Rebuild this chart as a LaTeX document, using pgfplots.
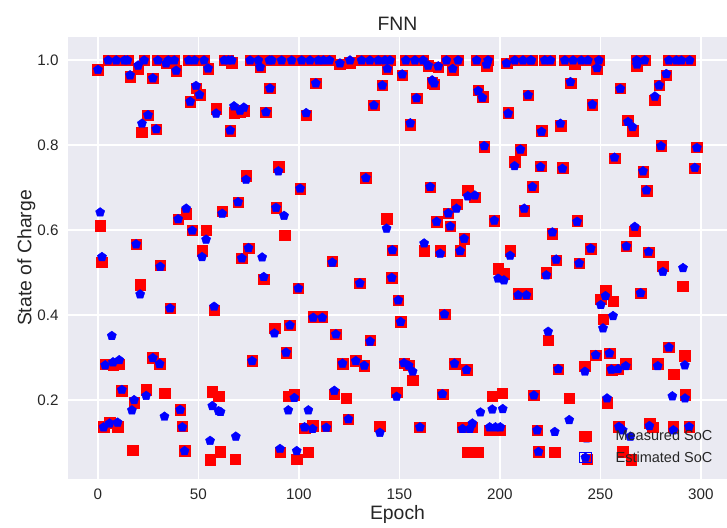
\documentclass[border=0pt]{standalone}
\usepackage{fontspec}
\setmainfont{Liberation Sans}
\usepackage{pgfplots}
\pgfplotsset{compat=1.18}
\definecolor{sbbg}{HTML}{EAEAF2}
\definecolor{sbtext}{HTML}{262626}
\begin{document}
\begin{tikzpicture}
\useasboundingbox (-68pt,-48pt) rectangle (659pt,479pt);
\begin{axis}[
  at={(0pt,0pt)}, anchor=south west,
  scale only axis, width=659pt, height=442pt,
  xmin=-14.9, xmax=313, ymin=0.014, ymax=1.055,
  axis background/.style={fill=sbbg},
  axis line style={draw=none},
  major tick length=0pt,
  grid=major, major grid style={white, line width=1.7pt},
  xtick={0,50,...,300}, ytick={0.2,0.4,0.6,0.8,1.0},
  /pgf/number format/assume math mode=true,
  tick label style={font=\fontsize{15.2}{18}\selectfont, text=sbtext},
  xticklabel style={yshift=-6pt},
  yticklabel style={xshift=-6pt, /pgf/number format/fixed, /pgf/number format/fixed zerofill, /pgf/number format/precision=1},
  xlabel={Epoch}, ylabel={State of Charge}, title={FNN},
  every axis x label/.style={at={(rel axis cs:0.5,0)}, anchor=north, yshift=-23pt, font=\fontsize{19.4}{23}\selectfont, text=sbtext},
  every axis y label/.style={at={(rel axis cs:0,0.5)}, xshift=-29.1pt, rotate=90, anchor=south, font=\fontsize{19.4}{23}\selectfont, text=sbtext},
  every axis title/.style={at={(rel axis cs:0.5,1)}, anchor=south, yshift=2.5pt, font=\fontsize{19.4}{23}\selectfont, text=sbtext},
  legend cell align=left,
  legend image code/.code={\path (-6pt,-5pt) rectangle (6pt,5pt); \draw[#1] plot coordinates {(0pt,0pt)};},
  legend style={at={(0.7754,0.0727)}, anchor=west, draw=none, fill=none, inner sep=0pt, row sep=7.5pt,
    font=\fontsize{14.5}{17}\selectfont, text=sbtext, nodes={inner sep=1pt}},
]
\addplot[only marks, mark=square*, mark size=5.3pt, color=red, mark options={draw=red, fill=red}] coordinates {
(0,0.978) (5.1,1.0) (9.1,1.0) (13.2,1.0) (14.7,1.0) (16,0.962) (20,0.980) (23,1.0) (27.3,0.958) (29.8,1.0) (33.9,0.993) (35,1.0) (38,1.0) (38.9,0.976) (45.2,1.0) (48,1.0) (52.8,1.0) (54.8,0.981) (48.8,0.934) (50.5,0.919) (45.9,0.903) (58.8,0.886) (62.8,1.0) (64.9,1.0) (66.6,0.995) (67.7,0.876) (70.7,0.878) (72.6,0.881) (65.8,0.835) (24.9,0.871) (21.9,0.831) (29,0.838) (1.1,0.611) (43.9,0.639) (39.9,0.626) (46.9,0.600) (53.8,0.600) (61.8,0.645) (69.7,0.666) (19,0.567) (51.8,0.551) (2,0.525) (31,0.518) (21,0.471) (35.9,0.416) (57.8,0.412) (3.6,0.284) (7.5,0.282) (10.6,0.284) (27.3,0.299) (30.7,0.285) (11.9,0.222) (24,0.224) (33.1,0.216) (56.9,0.219) (60,0.209) (18,0.193) (40.9,0.177) (42,0.138) (2.8,0.137) (5.8,0.147) (9.8,0.137) (17.2,0.082) (43.1,0.080) (55.8,0.060) (60.8,0.078) (68.3,0.061)
(75.7,1.0) (79.8,1.0) (85.3,1.0) (86.5,1.0) (91.4,1.0) (96.4,1.0) (101.4,1.0) (105.5,1.0) (109.7,1.0) (112.2,1.0) (115.2,1.0) (120.4,0.991) (125.4,0.994) (131.2,1.0) (135.3,1.0) (139.5,1.0) (142.8,1.0) (80.7,0.984) (144,0.980) (85.6,0.934) (108.4,0.946) (141.5,0.941) (83.6,0.878) (103.6,0.871) (137.3,0.894) (73.7,0.729) (89.8,0.749) (100.6,0.698) (133.3,0.723) (88.6,0.653) (92.8,0.588) (143.6,0.627) (74.9,0.558) (71.6,0.534) (116.6,0.527)
(82.5,0.485) (99.7,0.463) (130.3,0.475) (146.2,0.488) (107.1,0.396) (111.6,0.396) (87.8,0.369) (95.5,0.376) (118.4,0.355) (135.4,0.341) (93.6,0.312) (76.7,0.292) (121.7,0.286) (128.3,0.292) (132.5,0.281) (95,0.209) (97.7,0.212) (117.6,0.214) (123.6,0.204) (102.8,0.134) (106.8,0.139) (113.6,0.138) (124.6,0.155) (140.3,0.138) (90.6,0.077) (98.9,0.061) (104.7,0.077)
(145.3,1.0) (153.2,1.0) (157.7,1.0) (161.8,1.0) (164.3,0.988) (169.3,0.984) (173.4,1.0) (179.2,1.0) (188.4,1.0) (194.1,1.0) (203.3,0.993) (207.4,1.0) (211.5,1.0) (215.2,1.0) (176.5,0.978) (193.4,0.988) (151.4,0.965) (166.3,0.948) (167.3,0.944) (158.5,0.911) (189.2,0.930) (191.3,0.914) (214,0.918) (204.1,0.876) (155.4,0.848) (220.7,0.834) (192.2,0.797) (210.2,0.789) (207.3,0.761) (220.2,0.751) (216.2,0.702) (165.3,0.701) (184,0.694) (187.5,0.678) (178.4,0.661) (174.3,0.640) (212.1,0.646) (168.5,0.620) (175.3,0.609) (197.2,0.623) (182.2,0.580) (162.3,0.551) (146.5,0.553) (170.3,0.551) (180.2,0.551) (205.1,0.551)
(199.1,0.510) (202,0.498) (209.1,0.451) (213.2,0.451) (149.4,0.435) (172.4,0.402) (150.6,0.384) (152.3,0.287) (154.6,0.282) (156.6,0.247) (177.4,0.286) (183.4,0.271) (148.6,0.218) (171.4,0.214) (196.1,0.209) (201.1,0.216) (216.9,0.211) (160.2,0.136) (181.4,0.136) (186.3,0.136) (194.9,0.129) (197.8,0.129) (200.2,0.129) (218.5,0.129) (184.1,0.077) (189.2,0.077) (219.2,0.078)
(215.7,1.0) (222.3,1.0) (225.1,1.0) (232.3,1.0) (236.4,1.0) (240.5,1.0) (243.8,1.0) (249.2,1.0) (268,1.0) (272,1.0) (284.1,1.0) (287.8,1.0) (290.3,1.0) (294.4,1.0) (237.2,0.992) (248.3,0.980) (268.2,0.988) (235.1,0.946) (259.9,0.934) (246,0.896) (279.2,0.941) (282.8,0.965) (277.1,0.906) (230.1,0.846) (263.7,0.859) (266,0.835) (280.2,0.799) (298,0.795) (257,0.770) (231.1,0.747) (271.2,0.738) (297,0.746) (272.9,0.693) (238.4,0.622) (226.1,0.592) (267.1,0.598) (245.2,0.557) (262.9,0.562) (274,0.548) (228,0.529) (239.4,0.522)
(223.1,0.500) (281.1,0.515) (291.1,0.468) (252.5,0.457) (250.2,0.437) (256.3,0.433) (270,0.452) (251.3,0.390) (224,0.341) (247.7,0.306) (254.5,0.310) (284.1,0.324) (292,0.304) (229,0.273) (242.3,0.280) (255.5,0.272) (258.8,0.273) (262.6,0.285) (278.5,0.285) (286.5,0.261) (234.5,0.204) (253.3,0.194) (292.1,0.212) (227.2,0.077) (243.5,0.061) (259.2,0.137) (274.4,0.145) (276,0.136) (286.3,0.137) (294.1,0.137) (261,0.078) (265.4,0.060)
};
\addlegendentry{\hspace*{23pt}Measured SoC}
\addplot[only marks, mark=pentagon*, mark size=4.8pt, color=blue, mark options={draw=blue, fill=blue}] coordinates {
(0,0.978) (5.1,1.0) (9.1,1.0) (13.2,1.0) (14.7,1.0) (16,0.965) (20,0.988) (23,1.0) (27.3,0.958) (29.8,1.0) (33.9,0.993) (35,1.0) (38,1.0) (38.9,0.976) (45.2,1.0) (48,1.0) (52.8,1.0) (54.8,0.981) (48.8,0.940) (50.5,0.919) (45.9,0.903) (58.8,0.875) (62.8,1.0) (64.9,1.0) (66.6,1.0) (67.7,0.892) (70.7,0.882) (72.6,0.889) (65.8,0.835) (24.9,0.871) (21.9,0.851) (29,0.838) (1.1,0.642) (43.9,0.651) (39.9,0.626) (46.9,0.599) (53.8,0.578) (61.8,0.639) (69.7,0.666) (19,0.567) (51.8,0.537) (2,0.537)
(31,0.514) (21,0.449) (35.9,0.416) (57.8,0.420) (6.9,0.351) (3.6,0.282) (7.5,0.289) (10.6,0.294) (27.3,0.299) (30.7,0.285) (11.9,0.224) (24,0.210) (33.1,0.161) (56.9,0.186) (60,0.174) (61,0.172) (18,0.200) (16.9,0.176) (40.9,0.177) (42,0.136) (2.8,0.136) (5.8,0.145) (9.8,0.147) (43.1,0.080) (55.8,0.104) (68.6,0.114)
(75.7,1.0) (79.8,1.0) (85.3,1.0) (86.5,1.0) (91.4,1.0) (96.4,1.0) (101.4,1.0) (105.5,1.0) (109.7,1.0) (112.2,1.0) (115.2,1.0) (120.4,0.993) (125.4,1.0) (131.2,1.0) (135.3,1.0) (139.5,1.0) (142.8,1.0) (80.7,0.984) (144,0.980) (85.6,0.934) (108.4,0.946) (141.5,0.941) (83.6,0.878) (103.6,0.876) (137.3,0.894) (73.7,0.719) (89.8,0.739) (100.6,0.698) (133.3,0.723) (88.6,0.653) (92.6,0.634) (143.6,0.604) (74.9,0.558) (71.6,0.534) (81.7,0.536) (116.6,0.524)
(82.5,0.490) (99.7,0.463) (130.3,0.475) (146.2,0.488) (107.1,0.394) (111.6,0.394) (87.8,0.357) (95.5,0.376) (118.4,0.355) (135.4,0.338) (93.6,0.312) (76.7,0.292) (121.7,0.286) (128.3,0.292) (132.5,0.281) (97.7,0.205) (117.6,0.222) (94.7,0.176) (104.7,0.176) (102.8,0.136) (106.8,0.132) (113.6,0.135) (124.6,0.155) (140.3,0.123) (90.6,0.085) (98.9,0.080)
(145.3,1.0) (153.2,1.0) (157.7,1.0) (161.8,1.0) (164.3,0.988) (169.3,0.986) (173.4,1.0) (179.2,1.0) (188.4,1.0) (194.1,1.0) (203.3,0.993) (207.4,1.0) (211.5,1.0) (215.2,1.0) (176.5,0.980) (193.4,0.990) (151.4,0.967) (166.3,0.953) (167.3,0.946) (158.5,0.911) (189.2,0.928) (191.3,0.912) (214,0.918) (204.1,0.875) (155.4,0.852) (220.7,0.832) (192.2,0.798) (210.2,0.790) (207.3,0.751) (220.2,0.749) (216.2,0.702) (165.3,0.702) (184,0.680) (187.5,0.682) (178.4,0.651) (174.3,0.640) (212.1,0.651) (168.5,0.620) (175.3,0.609) (197.2,0.623) (182.2,0.580) (162.3,0.569) (146.5,0.553) (170.3,0.545) (180.2,0.551) (205.1,0.540)
(199.1,0.486) (202,0.482) (209.1,0.447) (213.2,0.447) (149.4,0.435) (172.4,0.402) (150.6,0.384) (152.3,0.287) (154.6,0.281) (156.6,0.267) (177.4,0.286) (183.4,0.271) (148.6,0.208) (171.4,0.214) (216.9,0.211) (190.3,0.171) (196.2,0.178) (201.4,0.179) (160.2,0.136) (181.4,0.132) (186.3,0.145) (185,0.132) (194.9,0.136) (197.8,0.136) (200.2,0.136) (218.5,0.129) (219.2,0.078)
(215.7,1.0) (222.3,1.0) (225.1,1.0) (232.3,1.0) (236.4,1.0) (240.5,1.0) (243.8,1.0) (249.2,1.0) (268,1.0) (272,1.0) (284.1,1.0) (287.8,1.0) (290.3,1.0) (294.4,1.0) (248.3,0.982) (268.2,0.990) (235.1,0.949) (259.9,0.933) (246,0.896) (279.2,0.941) (282.8,0.968) (277.1,0.915) (230.1,0.851) (263.7,0.855) (266,0.843) (280.2,0.798) (298,0.794) (257,0.771) (231.1,0.745) (271.2,0.739) (297,0.747) (272.9,0.694) (238.4,0.620) (226.1,0.595) (267.1,0.608) (245.2,0.557) (262.9,0.562) (274,0.549) (228,0.531) (239.4,0.522)
(223.1,0.494) (281.1,0.502) (291.1,0.511) (252.5,0.445) (250.2,0.424) (256.3,0.398) (270,0.452) (251.3,0.369) (224,0.361) (247.7,0.306) (254.5,0.310) (284.1,0.324) (292,0.282) (229,0.273) (242.3,0.267) (255.5,0.272) (258.8,0.273) (262.6,0.280) (278.5,0.280) (234.5,0.153) (253.3,0.204) (285.8,0.209) (292.1,0.204) (227.3,0.125) (243.1,0.110) (259.2,0.137) (261.1,0.129) (264.9,0.114) (274.4,0.139) (286.3,0.129) (294.1,0.137)
};
\addlegendentry{\hspace*{23pt}Estimated SoC}
\end{axis}
\end{tikzpicture}
\end{document}
